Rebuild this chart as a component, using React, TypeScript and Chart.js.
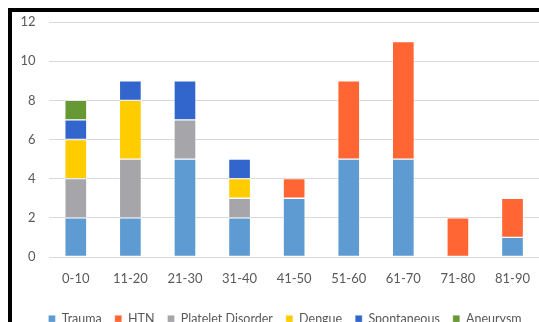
import React, { useEffect, useRef } from "react";
import { Chart, registerables } from "chart.js";
Chart.register(...registerables);

const categories = ["0-10", "11-20", "21-30", "31-40", "41-50", "51-60", "61-70", "71-80", "81-90"];
const trauma = [2, 2, 5, 2, 3, 5, 5, 0, 1];
const htn = [0, 0, 0, 0, 1, 4, 6, 2, 2];
const platelet = [2, 3, 2, 1, 0, 0, 0, 0, 0];
const dengue = [2, 3, 0, 1, 0, 0, 0, 0, 0];
const spontaneous = [1, 1, 2, 1, 0, 0, 0, 0, 0];
const aneurysm = [1, 0, 0, 0, 0, 0, 0, 0, 0];
const yTicks = [0, 2, 4, 6, 8, 10, 12];

const FONT = "Lato, 'Liberation Sans', sans-serif";

const legendShift = {
  id: "legendShift",
  afterLayout(chart: any) {
    if (chart.legend) {
      chart.legend.left += 7;
      chart.legend.right += 7;
    }
  },
};

export default function App() {
  const ref = useRef<HTMLCanvasElement>(null);
  useEffect(() => {
    if (!ref.current) return;
    const mk = (label: string, data: number[], color: string) => ({
      label,
      data,
      backgroundColor: color,
      borderColor: "rgba(255,255,255,0.35)",
      borderWidth: 1,
      borderSkipped: false,
      barThickness: 22,
    });
    const chart = new Chart(ref.current, {
      type: "bar",
      data: {
        labels: categories,
        datasets: [
          mk("Trauma", trauma, "#5F9BD3"),
          mk("HTN", htn, "#FF6633"),
          mk("Platelet Disorder", platelet, "#A5A5AA"),
          mk("Dengue", dengue, "#FFCC00"),
          mk("Spontaneous", spontaneous, "#3366CC"),
          mk("Aneurysm", aneurysm, "#669933"),
        ],
      },
      plugins: [legendShift],
      options: {
        animation: false,
        responsive: false,
        maintainAspectRatio: false,
        layout: { padding: { top: 10, left: 0, right: 0, bottom: 0 } },
        plugins: {
          tooltip: { enabled: false },
          legend: {
            position: "bottom",
            labels: {
              boxWidth: 7,
              boxHeight: 7,
              padding: 13,
              color: "#595959",
              font: { family: FONT, size: 12.5 },
            },
          },
        },
        scales: {
          x: {
            stacked: true,
            grid: { display: false, drawTicks: false },
            border: { display: false },
            ticks: { color: "#595959", font: { family: FONT, size: 13 }, padding: 14 },
            afterFit: (s: any) => { s.height = 42.5; },
          },
          y: {
            stacked: true,
            min: 0,
            max: 12,
            afterBuildTicks: (s: any) => { s.ticks = yTicks.map((v) => ({ value: v })); },
            grid: { color: "#D9D9D9", drawTicks: false },
            border: { display: false },
            ticks: { color: "#595959", font: { family: FONT, size: 13 }, padding: 13 },
            afterFit: (s: any) => { s.width = 36.5; s.paddingTop = 0; s.paddingBottom = 0; },
          },
        },
      },
    });
    return () => chart.destroy();
  }, []);
  return (
    <div style={{ position: "absolute", left: 0, top: 0, width: 539, height: 322, overflow: "hidden", background: "#fff" }}>
      <div style={{ position: "absolute", left: 8, top: 8, width: 600, height: 400, borderLeft: "4px solid #000", borderTop: "4px solid #000" }} />
      <canvas ref={ref} width={532} height={323} style={{ position: "absolute", left: 12, top: 12 }} />
    </div>
  );
}
